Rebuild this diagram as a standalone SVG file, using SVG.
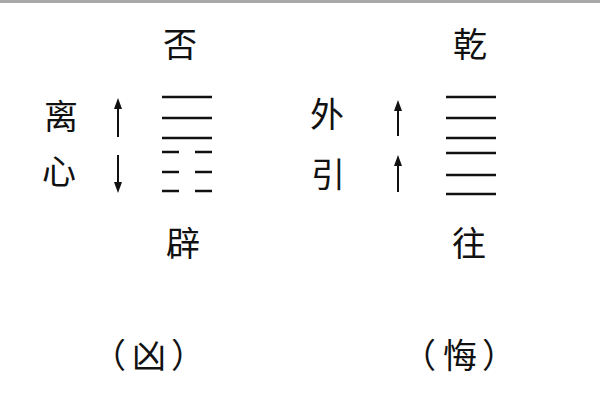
<svg xmlns="http://www.w3.org/2000/svg" width="600" height="400" viewBox="0 0 600 400">
<style>
.t{font-family:"Noto Sans CJK SC","Noto Sans CJK TC",sans-serif;font-size:34px;fill:#111;text-anchor:middle}
.y{stroke:#111;stroke-width:2.5;fill:none}
.a{stroke:#111;stroke-width:2;fill:none}
.h{fill:#111;stroke:none}
</style>
<rect x="0" y="0" width="600" height="400" fill="#fff"/>
<rect x="0" y="0" width="600" height="3" fill="#a8a8a8"/>
<g id="pi">
<text class="t" x="180" y="57">否</text>
<text class="t" x="61" y="129">离</text>
<text class="t" x="59" y="184">心</text>
<line class="y" x1="162" y1="97" x2="212" y2="97"/>
<line class="y" x1="162" y1="118" x2="212" y2="118"/>
<line class="y" x1="162" y1="138" x2="212" y2="138"/>
<path class="y" d="M162 152H179M195 152H212M162 172H179M195 172H212M162 191H179M195 191H212"/>
<text class="t" x="183" y="256">辟</text>
<text class="t" x="109 149 188" y="368">（凶）</text>
</g>
<g id="qian">
<text class="t" x="470" y="57">乾</text>
<text class="t" x="327" y="127">外</text>
<text class="t" x="328" y="187">引</text>
<line class="y" x1="446" y1="97" x2="496" y2="97"/>
<line class="y" x1="446" y1="118" x2="496" y2="118"/>
<line class="y" x1="446" y1="138" x2="496" y2="138"/>
<line class="y" x1="446" y1="153" x2="496" y2="153"/>
<line class="y" x1="446" y1="175" x2="496" y2="175"/>
<line class="y" x1="446" y1="194" x2="496" y2="194"/>
<text class="t" x="469" y="256">往</text>
<text class="t" x="419 460 499" y="368">（悔）</text>
</g>
<g id="connectors">
<line class="a" x1="118" y1="106" x2="118" y2="137"/>
<polygon class="h" points="118,98 114,109 122,109"/>
<line class="a" x1="118" y1="155" x2="118" y2="185"/>
<polygon class="h" points="118,193 114,182 122,182"/>
<line class="a" x1="398" y1="108" x2="398" y2="136"/>
<polygon class="h" points="398,100 394,111 402,111"/>
<line class="a" x1="398" y1="163" x2="398" y2="192"/>
<polygon class="h" points="398,155 394,166 402,166"/>
</g>
</svg>
